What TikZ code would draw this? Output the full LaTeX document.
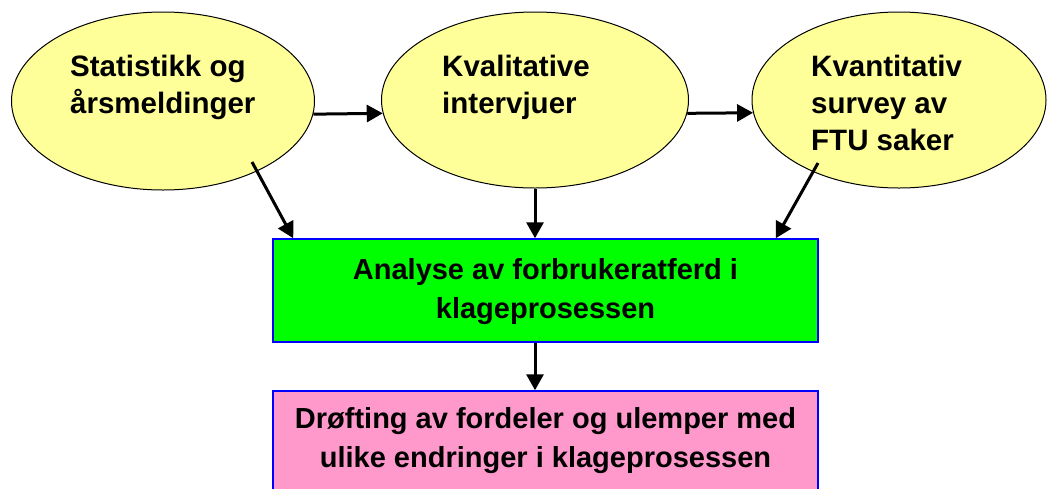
\documentclass[tikz,border=0pt]{standalone}
\usepackage{fontspec}
\setmainfont{Liberation Sans}
\usetikzlibrary{shapes.geometric,arrows.meta,calc}
\definecolor{ellfill}{HTML}{FFFF99}
\definecolor{boxgreen}{HTML}{00FF00}
\definecolor{boxpink}{HTML}{FF99CC}
\definecolor{boxblue}{HTML}{0000FF}
\begin{document}
\begin{tikzpicture}[x=1pt,y=-1pt,
  ell/.style={ellipse,draw=black,line width=1pt,fill=ellfill,inner sep=0pt},
  txt/.style={inner sep=0pt,align=left,anchor=north west,font=\bfseries\fontsize{29.5}{37}\selectfont},
  ctxt/.style={inner sep=0pt,align=center,font=\bfseries\fontsize{29}{39}\selectfont},
  boxn/.style={rectangle,draw=boxblue,line width=1.5pt,inner sep=0pt,minimum width=545pt},
  arr/.style={line width=3pt,-{Triangle[length=16pt,width=17pt]}}]
\useasboundingbox (0,0) rectangle (1048,488);
% ellipses
\node[ell,minimum width=303pt,minimum height=178pt] (e1) at (163,101) {};
\node[ell,minimum width=307pt,minimum height=176pt] (e2) at (535,100) {};
\node[ell,minimum width=294pt,minimum height=176pt] (e3) at (899,100) {};
\node[txt] (t1) at (70,55) {Statistikk og\\årsmeldinger};
\node[txt] (t2) at (442,55) {Kvalitative\\intervjuer};
\node[txt] (t3) at (811,55) {Kvantitativ\\survey av\\FTU saker};
% boxes
\node[boxn,fill=boxgreen,minimum height=103pt] (g) at (545.5,290.5) {};
\node[ctxt] (gt) at (545.5,292) {Analyse av forbrukeratferd i\\klageprosessen};
\node[boxn,fill=boxpink,minimum height=119pt] (p) at (545.5,450.5) {};
\node[ctxt] (pt) at (545.5,441) {Drøfting av fordeler og ulemper med\\ulike endringer i klageprosessen};
% connector ends
\coordinate (s1) at ($(e1.center)+(89,61)$);
\coordinate (d1) at ($(g.north west)+(21,0)$);
\coordinate (s3) at ($(e3.center)+(-81,63)$);
\coordinate (d3) at ($(g.north east)+(-43,0)$);
% arrows
\draw[arr] (e1.-5.3) -- (e2.185.7);
\draw[arr] (e2.-5.7) -- (e3.185.9);
\draw[arr] (s1) -- (d1);
\draw[arr] (e2.south) -- (e2.south |- g.north);
\draw[arr] (s3) -- (d3);
\draw[arr] (g.south -| e2.south) -- (p.north -| e2.south);
\end{tikzpicture}
\end{document}
